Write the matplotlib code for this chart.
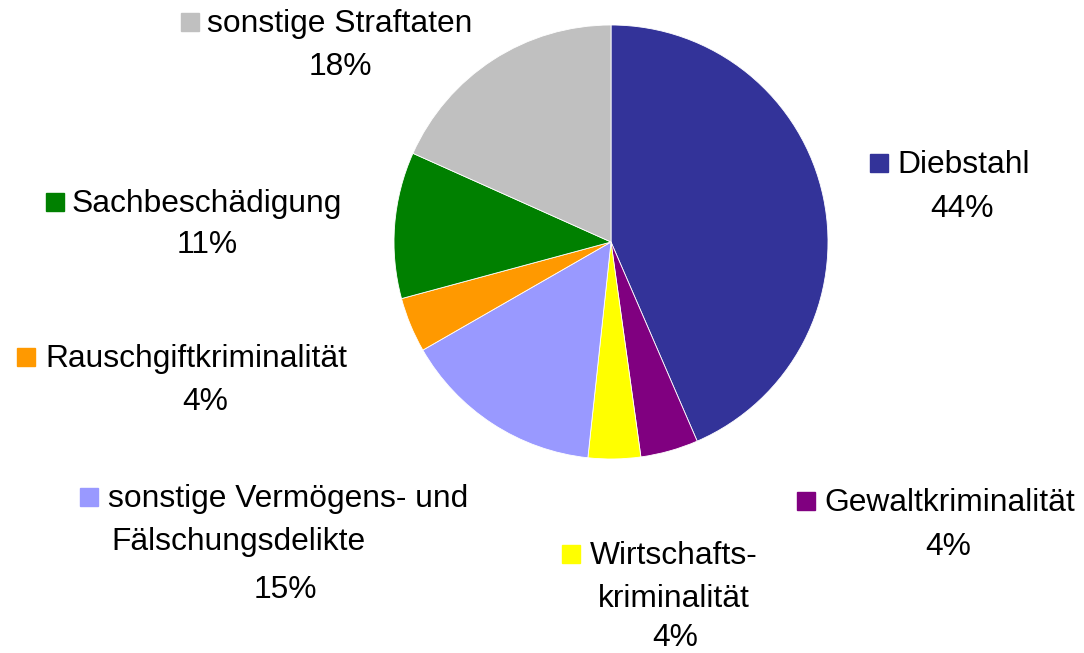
import matplotlib

matplotlib.use("Agg")
import matplotlib.pyplot as plt

# Anteile der Straftaten (Prozent), im Uhrzeigersinn ab 12 Uhr
CATEGORIES = [
    "Diebstahl",
    "Gewaltkriminalität",
    "Wirtschaftskriminalität",
    "sonstige Vermögens- und Fälschungsdelikte",
    "Rauschgiftkriminalität",
    "Sachbeschädigung",
    "sonstige Straftaten",
]
SHARES = [43.5, 4.3, 3.9, 15.0, 4.1, 10.9, 18.3]
COLORS = ["#333399", "#800080", "#FFFF00", "#9999FF", "#FF9900", "#008000", "#C0C0C0"]
LABEL_LINES = [
    ["Diebstahl"],
    ["Gewaltkriminalität"],
    ["Wirtschafts-", "kriminalität"],
    ["sonstige Vermögens- und", "Fälschungsdelikte"],
    ["Rauschgiftkriminalität"],
    ["Sachbeschädigung"],
    ["sonstige Straftaten"],
]

# Layout in Pixeln (y von oben): Quadrat-x, Text-x je Zeile, Text-y je Zeile, Prozent-x, Prozent-y
LABEL_LAYOUT = [
    (879, [897], [163], 962, 207),
    (806, [824], [501], 948, 545),
    (571, [590, 598], [554, 597], 675, 636),
    (89, [108, 111], [497, 540], 285, 588),
    (26, [45], [357], 205, 400),
    (55, [72], [202], 207, 243),
    (190, [207], [22], 340, 65),
]

W, H = 1084, 653
FONT = 22.9
TEXT_DY = 2  # Textmitte sitzt etwas tiefer als die Quadratmitte

plt.rcParams["font.family"] = ["Liberation Sans", "DejaVu Sans"]

fig = plt.figure(figsize=(W / 100, H / 100), dpi=100)
ax = fig.add_axes([0, 0, 1, 1])

ax.pie(
    SHARES,
    colors=COLORS,
    startangle=90,
    counterclock=False,
    center=(611, H - 242),
    radius=217,
    wedgeprops={"edgecolor": "white", "linewidth": 0.6},
    frame=True,
)
ax.set_xlim(0, W)
ax.set_ylim(0, H)
ax.set_aspect("equal")
ax.axis("off")

for share, color, lines, (sq_x, xs, ys, px, py) in zip(SHARES, COLORS, LABEL_LINES, LABEL_LAYOUT):
    ax.plot(sq_x, H - ys[0], marker="s", markersize=13.5, color=color, linestyle="none")
    for line, x, y in zip(lines, xs, ys):
        ax.text(x, H - y - TEXT_DY, line, fontsize=FONT, ha="left", va="center")
    ax.text(px, H - py - TEXT_DY, f"{round(share)}%", fontsize=FONT, ha="center", va="center")

fig.savefig("out.png", dpi=100)
